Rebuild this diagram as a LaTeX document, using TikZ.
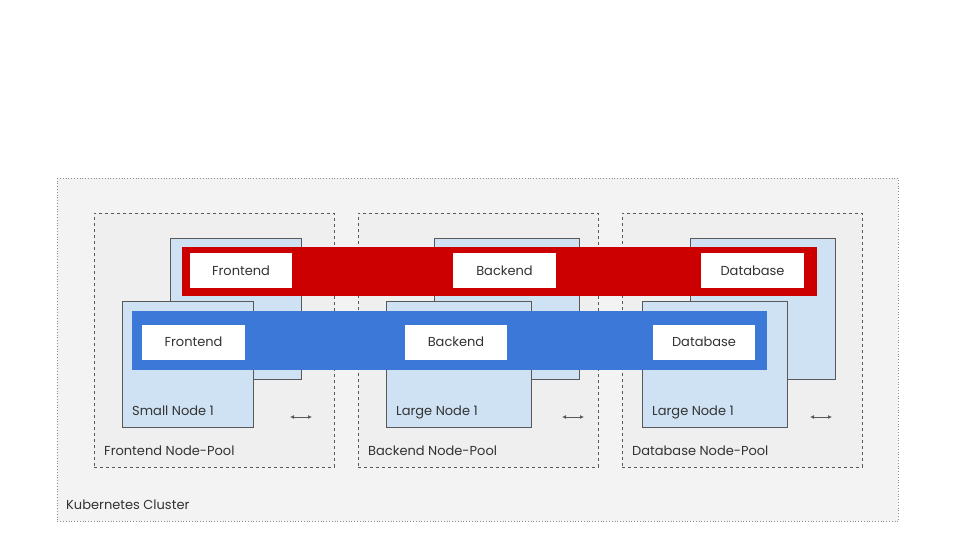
\documentclass[tikz,border=0pt]{standalone}
\usepackage{fontspec}
\setmainfont{Poppins}
\usetikzlibrary{arrows.meta, positioning}
\definecolor{clusterfill}{HTML}{F3F3F3}
\definecolor{poolfill}{HTML}{EFEFEF}
\definecolor{vmfill}{HTML}{CFE2F3}
\definecolor{lineg}{HTML}{595959}
\definecolor{barred}{HTML}{CC0000}
\definecolor{barblue}{HTML}{3C78D8}
\definecolor{txt}{HTML}{333333}

\begin{document}
\begin{tikzpicture}[
  x=1pt, y=-1pt,
  >={Latex[length=4pt, width=4pt]},
  font=\fontsize{13}{15}\selectfont,
  box/.style={rectangle, inner sep=0pt, anchor=north west},
  cluster/.style={box, draw=lineg!70, fill=clusterfill, dotted, line width=0.8pt},
  pool/.style={box, draw=lineg, fill=poolfill, dashed, line width=0.6pt},
  vm/.style={box, draw=lineg, fill=vmfill, line width=0.8pt},
  bar/.style={box, minimum width=635pt},
  svc/.style={rectangle, inner sep=0pt, fill=white, minimum width=102pt, minimum height=35pt, text=txt},
  lbl/.style={anchor=base west, inner sep=0pt, text=txt},
  scalearrow/.style={<->, lineg, line width=0.8pt}
]
\useasboundingbox (0,0) rectangle (960,540);
\fill[white] (0,0) rectangle (960,540);

% -------------------------------------------------------------------------
% CLUSTER AND NODE-POOLS
% -------------------------------------------------------------------------
\node[cluster, minimum width=841pt, minimum height=343pt] (cluster) at (57,178) {};
\node[lbl] (cluster_lbl) at (66,509.5) {Kubernetes Cluster};

\node[pool, minimum width=240pt, minimum height=254pt] (fe_pool) at (94,213) {};
\node[pool, minimum width=240pt, minimum height=254pt] (be_pool) at (358,213) {};
\node[pool, minimum width=240pt, minimum height=254pt] (db_pool) at (622,213) {};
\node[lbl] (fe_pool_lbl) at (104,455) {Frontend Node-Pool};
\node[lbl] (be_pool_lbl) at (368,455) {Backend Node-Pool};
\node[lbl] (db_pool_lbl) at (632,455) {Database Node-Pool};

% -------------------------------------------------------------------------
% NODES (BACK ROW)
% -------------------------------------------------------------------------
\node[vm, minimum width=131pt, minimum height=141pt] (fe_vm2) at (170,238) {};
\node[vm, minimum width=145pt, minimum height=141pt] (be_vm2) at (434,238) {};
\node[vm, minimum width=145pt, minimum height=141pt] (db_vm2) at (690,238) {};

% red service bar
\node[bar, fill=barred, minimum height=49pt] (red_bar) at (182,247) {};
\node[svc] (red_fe) at (241,270.5) {Frontend};
\node[svc, minimum width=103pt] (red_be) at (504.5,270.5) {Backend};
\node[svc, minimum width=103pt] (red_db) at (752.5,270.5) {Database};

% -------------------------------------------------------------------------
% NODES (FRONT ROW)
% -------------------------------------------------------------------------
\node[vm, minimum width=131pt, minimum height=126pt] (fe_vm1) at (122,301) {};
\node[vm, minimum width=145pt, minimum height=126pt] (be_vm1) at (386,301) {};
\node[vm, minimum width=145pt, minimum height=126pt] (db_vm1) at (642,301) {};
\node[lbl] (fe_vm1_lbl) at (132,415) {Small Node 1};
\node[lbl] (be_vm1_lbl) at (396,415) {Large Node 1};
\node[lbl] (db_vm1_lbl) at (652,415) {Large Node 1};

% blue service bar
\node[bar, fill=barblue, minimum height=59pt] (blue_bar) at (132,311) {};
\node[svc, minimum width=103pt] (blue_fe) at (193.5,342) {Frontend};
\node[svc] (blue_be) at (456,342) {Backend};
\node[svc] (blue_db) at (704,342) {Database};

% -------------------------------------------------------------------------
% SCALING ARROWS
% -------------------------------------------------------------------------
\coordinate (fe_l) at (290,417); \coordinate (fe_r) at (312,417);
\coordinate (be_l) at (562,417); \coordinate (be_r) at (584,417);
\coordinate (db_l) at (810,417); \coordinate (db_r) at (832,417);
\draw[scalearrow] (fe_l) -- (fe_r);
\draw[scalearrow] (be_l) -- (be_r);
\draw[scalearrow] (db_l) -- (db_r);
\end{tikzpicture}
\end{document}
